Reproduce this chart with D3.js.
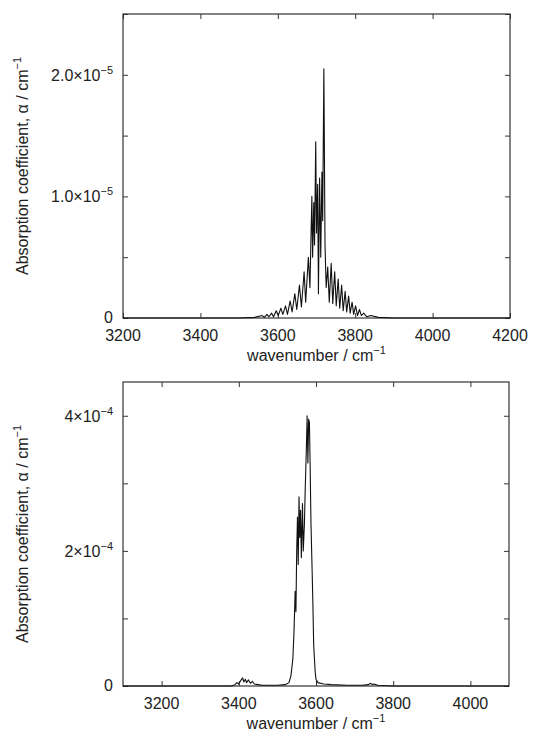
<!DOCTYPE html>
<html>
<head>
<meta charset="utf-8">
<script src="https://cdn.jsdelivr.net/npm/d3@7"></script>
<style>
  body { margin: 0; background: #fff; }
  svg { display: block; font-family: 'Liberation Sans', Arial, sans-serif; }
  .tick line { stroke: #333; }
  .domain { stroke: none; }
  .frame { fill: none; stroke: #333; stroke-width: 1.2; }
  .spectrum { fill: none; stroke: #111; stroke-width: 1.1; stroke-linejoin: round; }
  text { fill: #222; }
</style>
</head>
<body>
<div id="chart"></div>
<script>
// top panel: wavenumber (cm-1) and absorption coefficient (cm-1)
const topWavenumber = [
  3200, 3500, 3540, 3560, 3565, 3572, 3577, 3584, 3589, 3596, 3601, 3608, 3613,
  3620, 3625, 3632, 3637, 3644, 3649, 3656, 3661, 3668, 3672, 3679, 3683, 3688,
  3690, 3693, 3695, 3698, 3700, 3703, 3705, 3708, 3711, 3714, 3716, 3719, 3722,
  3725, 3729, 3733, 3738, 3742, 3747, 3751, 3756, 3760, 3765, 3769, 3774, 3778,
  3783, 3787, 3792, 3796, 3801, 3806, 3811, 3816, 3822, 3830, 3840, 3860, 3900, 4200,
];
const topAlpha = [
  0, 0, 0.005e-5, 0.02e-5, 0.005e-5, 0.03e-5, 0.01e-5, 0.04e-5, 0.01e-5, 0.06e-5, 0.02e-5, 0.08e-5, 0.03e-5,
  0.1e-5, 0.03e-5, 0.14e-5, 0.05e-5, 0.2e-5, 0.07e-5, 0.27e-5, 0.09e-5, 0.38e-5, 0.13e-5, 0.5e-5, 0.25e-5, 1.0e-5,
  0.5e-5, 0.95e-5, 0.6e-5, 1.45e-5, 0.7e-5, 1.1e-5, 0.2e-5, 1.15e-5, 0.5e-5, 1.2e-5, 0.8e-5, 2.05e-5, 0.6e-5,
  0.25e-5, 0.42e-5, 0.13e-5, 0.45e-5, 0.12e-5, 0.38e-5, 0.1e-5, 0.32e-5, 0.08e-5, 0.27e-5, 0.06e-5, 0.22e-5, 0.05e-5,
  0.18e-5, 0.04e-5, 0.13e-5, 0.03e-5, 0.1e-5, 0.02e-5, 0.07e-5, 0.02e-5, 0.04e-5, 0.01e-5, 0.02e-5, 0.005e-5, 0, 0,
];
const topXTicks = [3200, 3400, 3600, 3800, 4000, 4200];
const topYTicks = [0, 0.5e-5, 1.0e-5, 1.5e-5, 2.0e-5, 2.5e-5];
const topYLabels = { 0: ['0', ''], 1e-5: ['1.0×10', '−5'], 2e-5: ['2.0×10', '−5'] };

// bottom panel
const bottomWavenumber = [
  3100, 3380, 3390, 3395, 3400, 3405, 3410, 3413, 3417, 3420, 3425, 3430, 3435,
  3440, 3450, 3460, 3500, 3520, 3530, 3535, 3540, 3543, 3546, 3548, 3550, 3552,
  3554, 3556, 3558, 3560, 3562, 3565, 3567, 3570, 3572, 3575, 3577, 3579, 3581,
  3583, 3585, 3587, 3590, 3592, 3594, 3596, 3598, 3600, 3605, 3620, 3640, 3680,
  3720, 3735, 3742, 3746, 3750, 3760, 3800, 4100,
];
const bottomAlpha = [
  0, 0, 0.02e-4, 0.05e-4, 0.03e-4, 0.08e-4, 0.12e-4, 0.06e-4, 0.1e-4, 0.05e-4, 0.09e-4, 0.04e-4, 0.07e-4,
  0.03e-4, 0.02e-4, 0.01e-4, 0.01e-4, 0.02e-4, 0.05e-4, 0.15e-4, 0.4e-4, 0.8e-4, 1.4e-4, 1.1e-4, 2.0e-4, 2.5e-4,
  1.8e-4, 2.8e-4, 2.2e-4, 2.6e-4, 1.9e-4, 2.7e-4, 2.0e-4, 2.4e-4, 2.9e-4, 3.5e-4, 4.0e-4, 3.3e-4, 3.95e-4,
  3.9e-4, 3.2e-4, 2.4e-4, 1.7e-4, 1.2e-4, 0.6e-4, 0.4e-4, 0.2e-4, 0.1e-4, 0.05e-4, 0.03e-4, 0.02e-4, 0.01e-4,
  0.01e-4, 0.02e-4, 0.04e-4, 0.02e-4, 0.03e-4, 0.01e-4, 0, 0,
];
const bottomXTicks = [3200, 3400, 3600, 3800, 4000];
const bottomYTicks = [0, 1e-4, 2e-4, 3e-4, 4e-4];
const bottomYLabels = { 0: ['0', ''], 2e-4: ['2×10', '−4'], 4e-4: ['4×10', '−4'] };

const width = 536;
const height = 735;

const svg = d3.select('#chart')
  .append('svg')
  .attr('width', width)
  .attr('height', height);

class SpectrumPanel {
  constructor(config) {
    this.config = config;
    this.initVis();
  }

  initVis() {
    const vis = this;
    const c = vis.config;

    vis.w = c.right - c.left;
    vis.h = c.bottom - c.top;

    vis.xScale = d3.scaleLinear().domain(c.xDomain).range([0, vis.w]);
    vis.yScale = d3.scaleLinear().domain(c.yDomain).range([vis.h, 0]);

    vis.g = svg.append('g')
      .attr('transform', `translate(${c.left},${c.top})`);

    // ticks point inwards on all four sides
    vis.g.append('g')
      .attr('transform', `translate(0,${vis.h})`)
      .call(d3.axisBottom(vis.xScale).tickValues(c.xTicks).tickSize(-5).tickFormat(''));
    vis.g.append('g')
      .call(d3.axisTop(vis.xScale).tickValues(c.xTicks).tickSize(-5).tickFormat(''));
    vis.g.append('g')
      .call(d3.axisLeft(vis.yScale).tickValues(c.yTicks).tickSize(-5).tickFormat(''));
    vis.g.append('g')
      .attr('transform', `translate(${vis.w},0)`)
      .call(d3.axisRight(vis.yScale).tickValues(c.yTicks).tickSize(-5).tickFormat(''));

    // x tick labels
    vis.g.selectAll('.x-label')
      .data(c.xTicks)
      .join('text')
      .attr('class', 'x-label')
      .attr('x', (d) => vis.xScale(d))
      .attr('y', vis.h + 23)
      .attr('text-anchor', 'middle')
      .attr('font-size', 16)
      .text((d) => d);

    // y tick labels with superscript exponent
    const labelled = c.yTicks.filter((d) => c.yLabels[d]);
    const yl = vis.g.selectAll('.y-label')
      .data(labelled)
      .join('text')
      .attr('class', 'y-label')
      .attr('x', -10)
      .attr('y', (d) => vis.yScale(d) + (d === 0 ? 4.5 : 6))
      .attr('text-anchor', 'end')
      .attr('font-size', 16);
    yl.append('tspan').text((d) => c.yLabels[d][0]);
    yl.append('tspan')
      .attr('font-size', 11)
      .attr('dy', -7)
      .text((d) => c.yLabels[d][1]);

    vis.g.append('rect')
      .attr('class', 'frame')
      .attr('width', vis.w)
      .attr('height', vis.h);

    const line = d3.line()
      .x((d) => vis.xScale(d[0]))
      .y((d) => vis.yScale(d[1]));

    vis.g.append('path')
      .datum(d3.zip(c.xValues, c.yValues))
      .attr('class', 'spectrum')
      .attr('d', line);

    // axis titles
    const xt = svg.append('text')
      .attr('x', c.left + vis.w / 2)
      .attr('y', c.bottom + 43)
      .attr('text-anchor', 'middle')
      .attr('font-size', 16);
    xt.append('tspan').text('wavenumber / cm');
    xt.append('tspan').attr('font-size', 11).attr('dy', -7).text('−1');

    const yt = svg.append('text')
      .attr('transform', `translate(28,${c.top + vis.h / 2}) rotate(-90)`)
      .attr('text-anchor', 'middle')
      .attr('font-size', 16);
    yt.append('tspan').text('Absorption coefficient, α / cm');
    yt.append('tspan').attr('font-size', 11).attr('dy', -7).text('−1');
  }
}

new SpectrumPanel({
  left: 123, right: 510, top: 14, bottom: 318,
  xDomain: [3200, 4200], yDomain: [0, 2.5e-5],
  xTicks: topXTicks, yTicks: topYTicks, yLabels: topYLabels,
  xValues: topWavenumber, yValues: topAlpha,
});

new SpectrumPanel({
  left: 123, right: 509, top: 382, bottom: 686,
  xDomain: [3100, 4100], yDomain: [0, 4.5e-4],
  xTicks: bottomXTicks, yTicks: bottomYTicks, yLabels: bottomYLabels,
  xValues: bottomWavenumber, yValues: bottomAlpha,
});
</script>
</body>
</html>
